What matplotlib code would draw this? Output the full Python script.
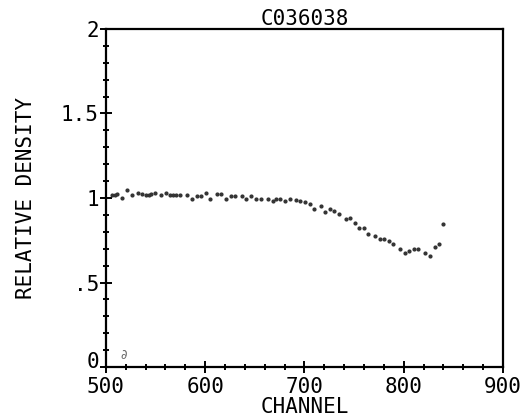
import matplotlib
matplotlib.use("Agg")
import matplotlib.pyplot as plt
import matplotlib.transforms as mtransforms
from matplotlib.ticker import MultipleLocator

title = "C036038"
x_label = "CHANNEL"
y_label = "RELATIVE DENSITY"

x_ticks = [500, 600, 700, 800, 900]
y_ticks = [0, 0.5, 1, 1.5, 2]
y_tick_labels = ["0", ".5", "1", "1.5", "2"]

# points
channel = [506, 509, 511, 516, 521, 526, 532, 536, 540, 543, 546, 550, 556,
           561, 565, 568, 571, 575, 582, 587, 592, 596, 601, 605, 612, 616,
           621, 626, 630, 637, 641, 646, 651, 656, 663, 668, 671, 675, 680,
           685, 691, 696, 701, 706, 710, 717, 721, 726, 730, 735, 742, 746,
           751, 755, 760, 764, 771, 776, 780, 785, 789, 796, 801, 805, 810,
           814, 821, 826, 831, 835, 840]
density = [1.015, 1.019, 1.023, 0.999, 1.045, 1.019, 1.031, 1.025, 1.019,
           1.019, 1.025, 1.031, 1.015, 1.031, 1.019, 1.015, 1.015, 1.015,
           1.015, 0.995, 1.011, 1.011, 1.027, 0.995, 1.023, 1.023, 0.995,
           1.011, 1.011, 1.011, 0.995, 1.011, 0.995, 0.995, 0.995, 0.983,
           0.995, 0.995, 0.981, 0.995, 0.989, 0.981, 0.979, 0.966, 0.934,
           0.950, 0.920, 0.934, 0.922, 0.906, 0.878, 0.880, 0.850, 0.825,
           0.825, 0.785, 0.773, 0.757, 0.757, 0.743, 0.730, 0.700, 0.675,
           0.687, 0.700, 0.700, 0.672, 0.659, 0.712, 0.728, 0.847]

font = {"family": "DejaVu Sans Mono", "size": 15}

fig = plt.figure(figsize=(5.29, 4.19), dpi=100)
ax = fig.add_axes([0.200, 0.124, 0.751, 0.807])

ax.plot(channel, density, "o", color="#333333", markersize=2.0, linestyle="none")

ax.set_xlim(500, 900)
ax.set_ylim(0, 2)
ax.set_xticks(x_ticks)
ax.set_xticklabels([str(t) for t in x_ticks], fontdict=font)
ax.set_yticks(y_ticks)
ax.set_yticklabels(y_tick_labels, fontdict=font)
ax.xaxis.set_minor_locator(MultipleLocator(20))
ax.yaxis.set_minor_locator(MultipleLocator(0.1))
ax.tick_params(which="major", direction="inout", length=8, width=1.4,
               colors="black")
ax.tick_params(axis="x", which="major", pad=3)
ax.tick_params(axis="y", which="major", pad=1)
ax.tick_params(which="minor", direction="inout", length=5, width=1.4)

# the "0" label sits a little above the x axis in the original
lbl0 = ax.get_yticklabels()[0]
lbl0.set_transform(lbl0.get_transform() +
                   mtransforms.ScaledTranslation(0, 5 / 72, fig.dpi_scale_trans))

for side in ["left", "bottom", "top", "right"]:
    ax.spines[side].set_linewidth(1.6)
    ax.spines[side].set_color("black")

ax.set_xlabel(x_label, fontdict=font, labelpad=0)
ax.set_ylabel(y_label, fontdict=font, labelpad=18)
ax.set_title(title, fontdict=font, pad=2)

# handwritten mark in the corner
ax.text(515, 0.05, "\u2202", fontsize=9, color="#666666")

fig.savefig("out.png", dpi=100)
